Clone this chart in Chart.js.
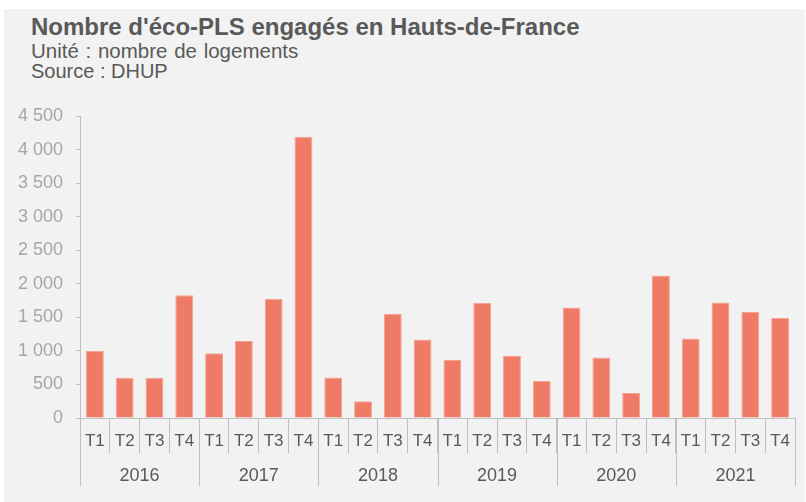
<!DOCTYPE html>
<html><head><meta charset="utf-8">
<script src="https://cdn.jsdelivr.net/npm/chart.js@4.4.1/dist/chart.umd.min.js"></script>
<style>
html,body{margin:0;padding:0;background:#fff;}
#wrap{position:absolute;left:4px;top:9px;width:801px;height:493px;background:#f2f2f2;font-family:"Liberation Sans",Arial,sans-serif;color:#595959;}
.t{position:absolute;left:27px;white-space:nowrap;line-height:1;}
#title{top:6px;font-size:24px;font-weight:bold;}
#sub1{top:32px;font-size:20.5px;word-spacing:1px;}
#sub2{top:52px;font-size:20px;}
canvas{position:absolute;left:0;top:0;}
</style></head><body>
<div id="wrap">
<div class="t" id="title">Nombre d'éco-PLS engagés en Hauts-de-France</div>
<div class="t" id="sub1">Unité : nombre de logements</div>
<div class="t" id="sub2">Source : DHUP</div>
<canvas id="c" width="801" height="493"></canvas>
</div>
<script>
const years = ['2016', '2017', '2018', '2019', '2020', '2021'];
const quarters = ['T1', 'T2', 'T3', 'T4'];
const values2016 = [1000, 600, 598, 1830];
const values2017 = [963, 1146, 1776, 4190];
const values2018 = [605, 248, 1548, 1171];
const values2019 = [863, 1712, 923, 551];
const values2020 = [1648, 903, 372, 2124];
const values2021 = [1186, 1722, 1578, 1489];
const yMax = 4500;
const yStep = 500;

const FONT = '"Liberation Sans", Arial, sans-serif';
const labels = [];
years.forEach(() => quarters.forEach(q => labels.push(q)));
const values = [].concat(values2016, values2017, values2018, values2019, values2020, values2021);

function fmt(v) { return String(v).replace(/\B(?=(\d{3})+(?!\d))/g, ' '); }

const yearAxis = {
  id: 'yearAxis',
  afterDraw(chart) {
    const ctx = chart.ctx, xs = chart.scales.x, area = chart.chartArea;
    const half = (xs.getPixelForValue(1) - xs.getPixelForValue(0)) / 2;
    ctx.save();
    ctx.strokeStyle = '#bfbfbf';
    ctx.lineWidth = 1;
    ctx.fillStyle = '#595959';
    ctx.font = '18px ' + FONT;
    ctx.textAlign = 'center';
    ctx.textBaseline = 'middle';
    const top = area.bottom, bottom = area.bottom + 68;
    years.forEach((y, i) => {
      const l = xs.getPixelForValue(i * 4) - half;
      const r = xs.getPixelForValue(i * 4 + 3) + half;
      [l, r].forEach(x => {
        const px = Math.round(x) + 0.5;
        ctx.beginPath(); ctx.moveTo(px, top); ctx.lineTo(px, bottom); ctx.stroke();
      });
      ctx.fillText(y, (l + r) / 2, area.bottom + 58);
    });
    ctx.restore();
  }
};

new Chart(document.getElementById('c'), {
  type: 'bar',
  data: {
    labels: labels,
    datasets: [{
      data: values,
      backgroundColor: '#ef7b67',
      borderColor: '#f4a393',
      borderWidth: 1,
      borderSkipped: 'bottom',
      barPercentage: 0.6,
      categoryPercentage: 1
    }]
  },
  options: {
    responsive: false,
    animation: false,
    devicePixelRatio: 1,
    layout: { padding: { top: 107, right: 10, left: 0, bottom: 0 } },
    plugins: { legend: { display: false }, tooltip: { enabled: false } },
    scales: {
      x: {
        offset: true,
        grid: { offset: true, drawOnChartArea: false, drawTicks: true, tickLength: 35, color: '#bfbfbf', lineWidth: 1 },
        border: { display: true, color: '#bfbfbf', width: 1 },
        ticks: { color: '#595959', font: { family: FONT, size: 17 }, padding: -22, maxRotation: 0, minRotation: 0, autoSkip: false },
        afterFit: s => { s.height = 84; }
      },
      y: {
        min: 0, max: yMax,
        ticks: { stepSize: yStep, color: '#a6a6a6', font: { family: FONT, size: 18 }, padding: 13, callback: v => fmt(v) },
        grid: { drawOnChartArea: false, drawTicks: true, tickLength: 4, color: '#bfbfbf' },
        border: { display: true, color: '#bfbfbf', width: 1 },
        afterFit: s => { s.width = 76; }
      }
    }
  },
  plugins: [yearAxis]
});
</script>
</body></html>
